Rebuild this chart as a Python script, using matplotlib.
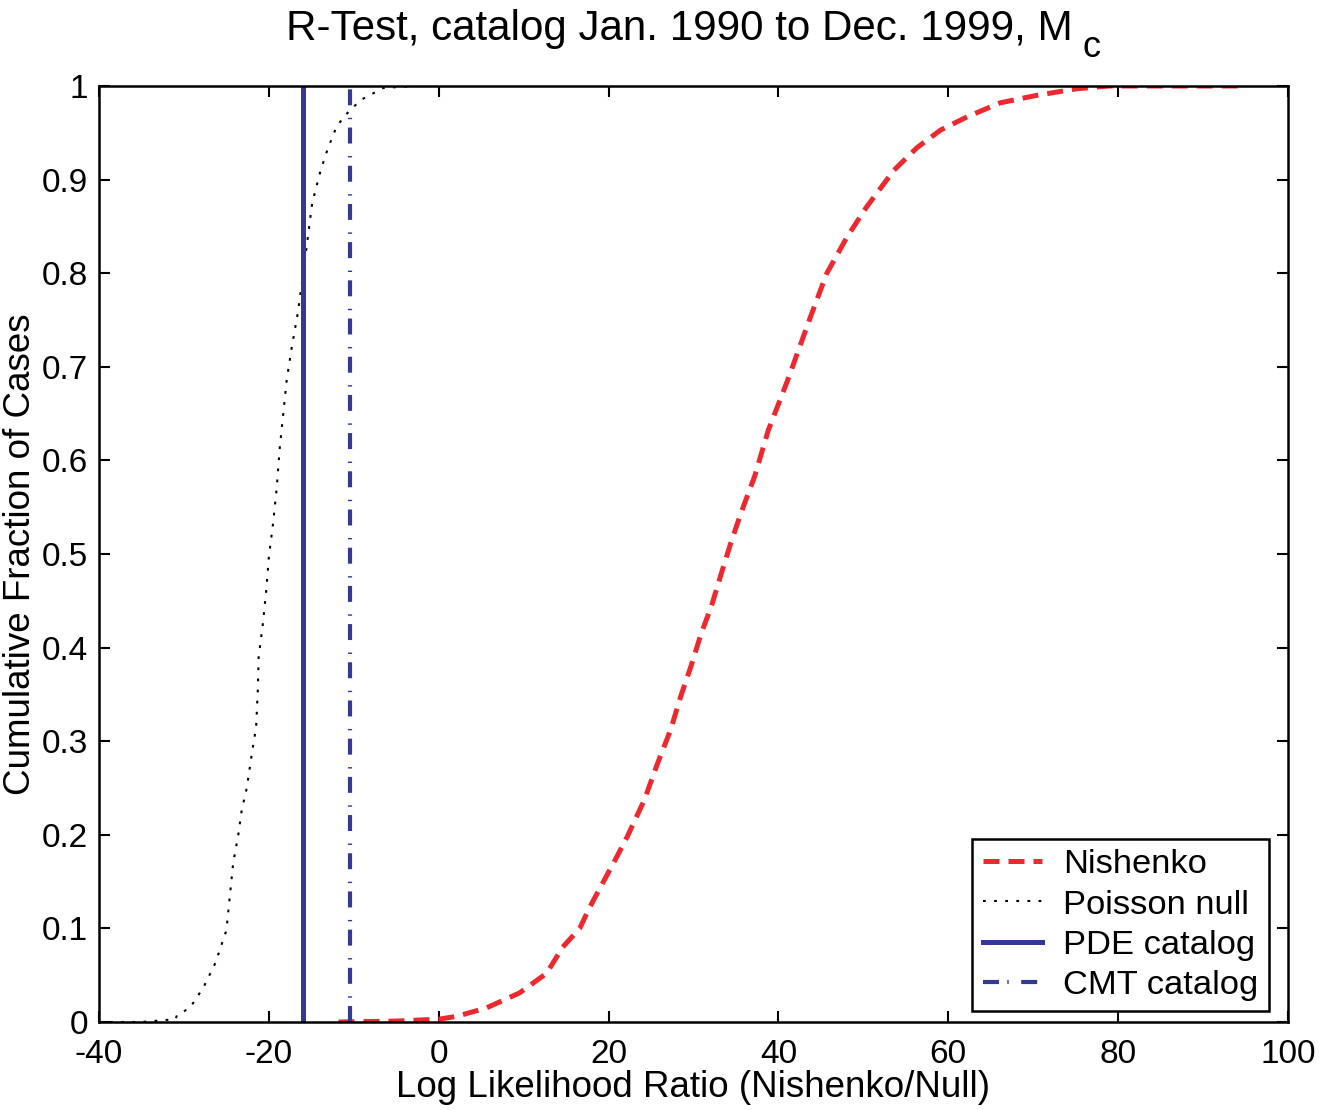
import matplotlib
matplotlib.use("Agg")
import matplotlib.pyplot as plt

plt.rcParams['font.family'] = ['Liberation Sans', 'DejaVu Sans']
plt.rcParams['axes.unicode_minus'] = False
plt.rcParams['lines.scale_dashes'] = False

# curves
poisson_x = [-40, -35, -31, -30.8, -29.3, -27.7, -26.3, -25.0, -24.6, -24.2,
             -23.6, -23.2, -22.6, -22.0, -21.5, -21.3, -21.2, -20.7, -20.3,
             -20.0, -19.5, -19.1, -18.7, -18.3, -17.9, -17.3, -16.6, -15.9,
             -15.4, -14.9, -13.9, -13.1, -12.1, -11.2, -9.2, -6.5, -2.6, 0]
poisson_y = [0, 0, 0.003, 0.0075, 0.015, 0.037, 0.063, 0.098, 0.134, 0.17,
             0.20, 0.226, 0.25, 0.287, 0.315, 0.355, 0.39, 0.426, 0.462,
             0.497, 0.533, 0.568, 0.615, 0.650, 0.686, 0.721, 0.757, 0.803,
             0.839, 0.875, 0.91, 0.932, 0.955, 0.967, 0.985, 0.998, 1.0, 1.0]

nishenko_x = [-11.8, -5, 0, 2.1, 5.6, 9.5, 12.7, 14.6, 16.6, 17.8, 21.0, 22.2,
              24.2, 25.8, 27.3, 28.5, 29.7, 30.9, 32.1, 33.3, 34.4, 35.6, 37.2,
              38.8, 41.1, 43.8, 45.7, 48.1, 50.4, 53.6, 56.3, 59.1, 62.2, 66.1,
              70.4, 75.1, 79, 95]
nishenko_y = [0, 0.001, 0.003, 0.006, 0.015, 0.031, 0.052, 0.080, 0.10, 0.123,
              0.177, 0.198, 0.237, 0.277, 0.312, 0.348, 0.38, 0.415, 0.444,
              0.48, 0.512, 0.544, 0.583, 0.632, 0.686, 0.754, 0.80, 0.839,
              0.871, 0.91, 0.934, 0.953, 0.967, 0.982, 0.990, 0.997, 1.0, 1.0]

pde_value = -16.0
cmt_value = -10.4

x_ticks = [-40, -20, 0, 20, 40, 60, 80, 100]
y_ticks = [0, 0.1, 0.2, 0.3, 0.4, 0.5, 0.6, 0.7, 0.8, 0.9, 1]
y_tick_labels = ['0', '0.1', '0.2', '0.3', '0.4', '0.5', '0.6', '0.7', '0.8', '0.9', '1']

red = '#ED282E'
blue = '#333994'

fig = plt.figure(figsize=(13.23, 11.1), dpi=100)
ax = fig.add_axes([99 / 1323, 1 - 1022 / 1110, (1288 - 99) / 1323, (1022 - 86) / 1110])

ax.plot(nishenko_x, nishenko_y, color=red, lw=3.6, dashes=(11.5, 6.5),
        solid_capstyle='butt', label='Nishenko')
ax.plot(poisson_x, poisson_y, color='black', lw=1.5, dashes=(2, 6),
        label='Poisson null')
ax.plot([pde_value, pde_value], [0, 1], color=blue, lw=3.6, label='PDE catalog')
ax.plot([cmt_value, cmt_value], [0, 1], color=blue, lw=3.0,
        dashes=(11.5, 6, 1, 9), label='CMT catalog')

ax.set_xlim(-40, 100)
ax.set_ylim(0, 1)
ax.set_xticks(x_ticks)
ax.set_yticks(y_ticks)
ax.set_yticklabels(y_tick_labels)
ax.tick_params(direction='in', length=8, width=1.5, labelsize=24, pad=8,
               top=True, right=True)
ax.tick_params(axis='x', pad=12)
for sp in ax.spines.values():
    sp.set_linewidth(1.8)

ax.set_xlabel('Log Likelihood Ratio (Nishenko/Null)', fontsize=26.5, labelpad=0)
ax.set_ylabel('Cumulative Fraction of Cases', fontsize=26.5, labelpad=2.5)

fig.text(679 / 1323, 1 - 40 / 1110, 'R-Test, catalog Jan. 1990 to Dec. 1999, M',
         fontsize=30.3, ha='center', va='baseline')
fig.text(1091 / 1323, 1 - 57 / 1110, 'c', fontsize=26, ha='center', va='baseline')

leg = ax.legend(loc='lower right', bbox_to_anchor=(1269 / 1323, 1 - 1011 / 1110),
                bbox_transform=fig.transFigure, borderaxespad=0, fontsize=24.8,
                handlelength=1.72, handletextpad=0.62, labelspacing=0.26,
                borderpad=0.3, fancybox=False, framealpha=1)
leg.get_frame().set_edgecolor('black')
leg.get_frame().set_linewidth(1.8)

fig.savefig('out.png', dpi=100)
